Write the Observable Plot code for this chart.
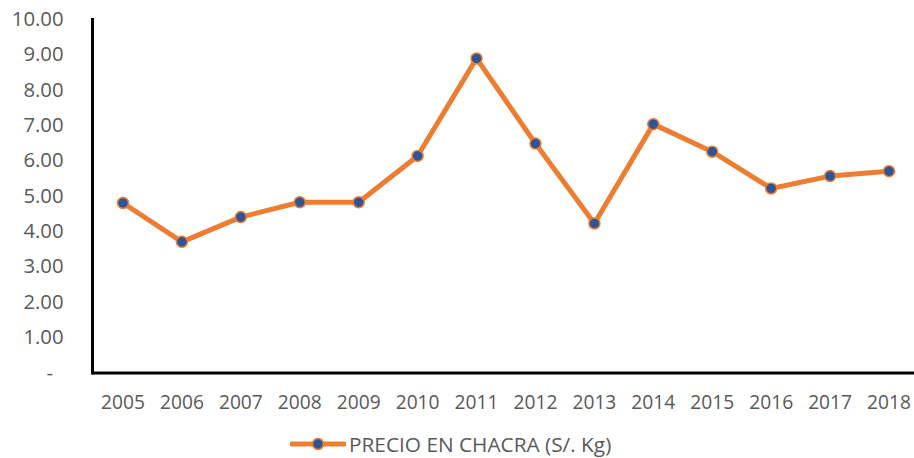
<!DOCTYPE html>
<html>
<head>
<meta charset="utf-8">
<script src="https://cdn.jsdelivr.net/npm/d3@7"></script>
<script src="https://cdn.jsdelivr.net/npm/@observablehq/plot@0.6"></script>
<style>
  body { margin: 0; background: #fff; font-family: "Open Sans", sans-serif; }
  #legend { height: 38px; margin-top: 5px; display: flex; align-items: center; padding-left: 290px; color: #595959; font-size: 20.8px; }
  #legend svg { margin-right: 3px; }
</style>
</head>
<body>
<div id="chart"></div>
<div id="legend"></div>
<script>
const years = ["2005","2006","2007","2008","2009","2010","2011","2012","2013","2014","2015","2016","2017","2018"];
const precio = [4.81, 3.71, 4.41, 4.83, 4.83, 6.14, 8.90, 6.49, 4.23, 7.04, 6.26, 5.22, 5.57, 5.71];
const yTicks = [0,1,2,3,4,5,6,7,8,9,10];
const seriesName = "PRECIO EN CHACRA (S/. Kg)";

const data = years.map((y, i) => ({year: y, value: precio[i]}));
const orange = "#ED7D31", blue = "#2F5597", gray = "#595959";

const chart = Plot.plot({
  width: 914,
  height: 420,
  marginLeft: 92,
  marginRight: 0,
  marginTop: 19,
  marginBottom: 47.5,
  style: {fontFamily: "'Open Sans', sans-serif", color: gray, background: "white"},
  x: {type: "point", domain: years, range: [122.5, 888.5], padding: 0, round: false},
  y: {domain: [0, 10]},
  marks: [
    Plot.axisY(yTicks, {tickSize: 0, tickPadding: 29, fill: gray, label: null, fontSize: 20.3,
      tickFormat: d => d === 0 ? "-\u00a0\u00a0" : d.toFixed(2)}),
    Plot.axisX({tickSize: 0, tickPadding: 22, fill: gray, label: null, fontSize: 19.2}),
    Plot.frame({anchor: "left", stroke: "black", strokeWidth: 3}),
    Plot.ruleY([0], {stroke: "black", strokeWidth: 3}),
    Plot.line(data, {x: "year", y: "value", stroke: orange, strokeWidth: 5, strokeLinejoin: "round", strokeLinecap: "round"}),
    Plot.dot(data, {x: "year", y: "value", r: 5.5, fill: blue, stroke: orange, strokeWidth: 1.5})
  ]
});
document.getElementById("chart").appendChild(chart);

const lg = document.getElementById("legend");
lg.innerHTML = `<svg width="56" height="16" viewBox="0 0 56 16">
  <line x1="2" y1="8" x2="54" y2="8" stroke="${orange}" stroke-width="5" stroke-linecap="round"></line>
  <circle cx="28" cy="8" r="5.5" fill="${blue}" stroke="${orange}" stroke-width="1.5"></circle>
</svg><span>${seriesName}</span>`;
</script>
</body>
</html>
